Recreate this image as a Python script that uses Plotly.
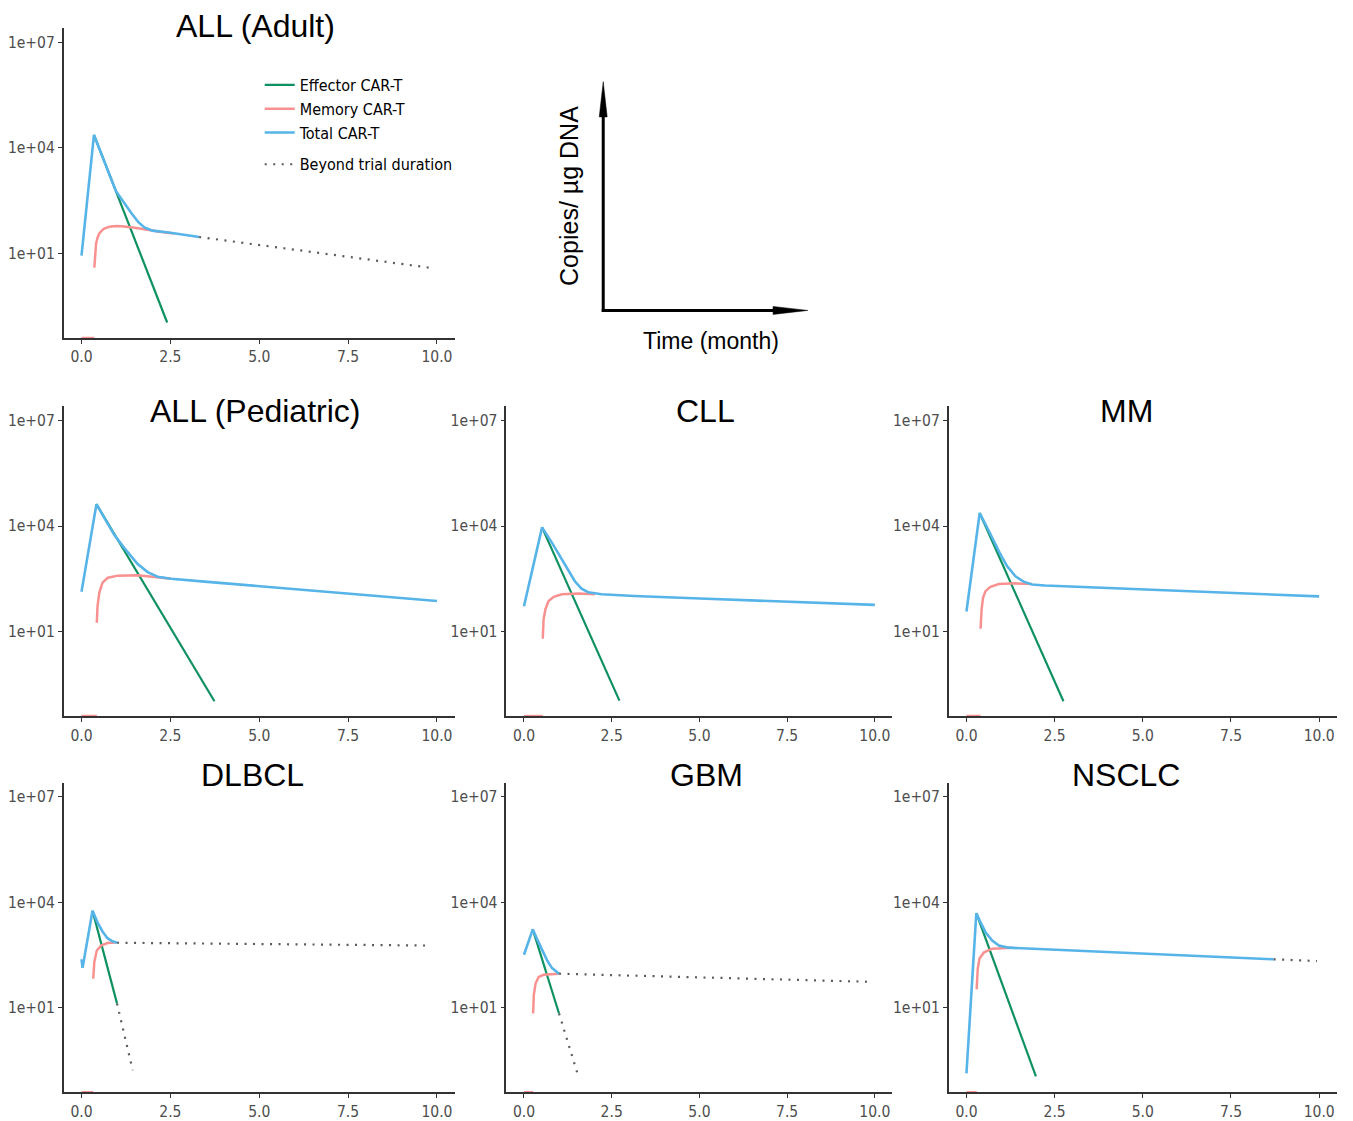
import plotly.graph_objects as go

# ---------------- data (time in months, values as log10 copies/ug DNA) ----------------
FLOOR_LOG = -1.4  # memory CAR-T before expansion (zero) drawn at the panel floor

# ALL (Adult)
ADULT_EFF_T = [0.35, 2.41]
ADULT_EFF_LOG = [4.37, -0.96]
ADULT_MEM_T = [0.36, 0.38, 0.41, 0.45, 0.50, 0.57, 0.64, 0.75, 0.83, 1.0, 1.2, 1.5, 1.77, 2.2, 2.6]
ADULT_MEM_LOG = [0.60, 1.0, 1.28, 1.45, 1.57, 1.65, 1.71, 1.75, 1.77, 1.78, 1.77, 1.73, 1.68, 1.62, 1.57]
ADULT_TOT_T = [0, 0.35, 0.97, 1.15, 1.4, 1.6, 1.77, 2.0, 2.5, 3.31]
ADULT_TOT_LOG = [0.94, 4.37, 2.77, 2.50, 2.15, 1.89, 1.74, 1.65, 1.59, 1.47]
ADULT_BEYOND_T = [3.31, 9.82]
ADULT_BEYOND_LOG = [1.47, 0.595]

# ALL (Pediatric)
PED_EFF_T = [0.42, 3.74]
PED_EFF_LOG = [4.62, -0.98]
PED_MEM_T = [0.43, 0.45, 0.50, 0.59, 0.74, 1.02, 1.58, 2.05, 2.52]
PED_MEM_LOG = [1.25, 1.72, 2.10, 2.39, 2.53, 2.59, 2.60, 2.56, 2.50]
PED_TOT_T = [0, 0.42, 0.92, 1.20, 1.58, 1.86, 2.14, 2.52, 3.46, 4.39, 5.80, 7.21, 8.62, 10.0]
PED_TOT_LOG = [2.13, 4.62, 3.75, 3.38, 2.92, 2.69, 2.56, 2.50, 2.42, 2.34, 2.22, 2.10, 1.98, 1.87]

# CLL
CLL_EFF_T = [0.515, 2.72]
CLL_EFF_LOG = [3.96, -0.96]
CLL_MEM_T = [0.535, 0.56, 0.61, 0.70, 0.85, 1.08, 1.55, 2.02]
CLL_MEM_LOG = [0.80, 1.35, 1.63, 1.87, 1.99, 2.06, 2.08, 2.06]
CLL_TOT_T = [0, 0.515, 0.80, 1.08, 1.27, 1.45, 1.64, 1.83, 2.21, 3.14, 5.02, 7.37, 10.0]
CLL_TOT_LOG = [1.72, 3.96, 3.52, 3.05, 2.72, 2.43, 2.22, 2.12, 2.06, 2.01, 1.94, 1.86, 1.76]

# MM
MM_EFF_T = [0.375, 2.75]
MM_EFF_LOG = [4.37, -0.98]
MM_MEM_T = [0.40, 0.43, 0.47, 0.54, 0.68, 0.92, 1.39, 1.86]
MM_MEM_LOG = [1.08, 1.63, 1.96, 2.15, 2.27, 2.35, 2.37, 2.35]
MM_TOT_T = [0, 0.375, 0.64, 0.92, 1.15, 1.39, 1.62, 1.86, 2.23, 3.55, 4.96, 7.30, 10.0]
MM_TOT_LOG = [1.57, 4.37, 3.85, 3.28, 2.86, 2.57, 2.42, 2.34, 2.31, 2.26, 2.20, 2.10, 2.00]

# DLBCL
DLBCL_EFF_T = [0.31, 1.0]
DLBCL_EFF_LOG = [3.76, 1.12]
DLBCL_MEM_T = [0.33, 0.36, 0.43, 0.55, 0.73, 0.97]
DLBCL_MEM_LOG = [1.83, 2.30, 2.63, 2.77, 2.84, 2.86]
DLBCL_TOT_T = [0, 0.03, 0.31, 0.45, 0.59, 0.73, 0.87, 1.0]
DLBCL_TOT_LOG = [2.38, 2.14, 3.76, 3.43, 3.17, 2.98, 2.89, 2.85]
DLBCL_BEYOND_EFF_T = [1.0, 1.44]
DLBCL_BEYOND_EFF_LOG = [1.12, -0.77]
DLBCL_BEYOND_TOT_T = [1.0, 9.84]
DLBCL_BEYOND_TOT_LOG = [2.85, 2.77]

# GBM
GBM_EFF_T = [0.25, 1.0]
GBM_EFF_LOG = [3.23, 0.84]
GBM_MEM_T = [0.26, 0.28, 0.33, 0.42, 0.56, 0.80, 0.99]
GBM_MEM_LOG = [0.84, 1.36, 1.69, 1.88, 1.94, 1.96, 1.97]
GBM_TOT_T = [0, 0.25, 0.37, 0.52, 0.66, 0.80, 1.0]
GBM_TOT_LOG = [2.51, 3.23, 2.96, 2.63, 2.35, 2.13, 1.97]
GBM_BEYOND_EFF_T = [1.0, 1.55]
GBM_BEYOND_EFF_LOG = [0.84, -0.95]
GBM_BEYOND_TOT_T = [1.0, 9.86]
GBM_BEYOND_TOT_LOG = [1.97, 1.74]

# NSCLC
NSCLC_EFF_T = [0.28, 1.97]
NSCLC_EFF_LOG = [3.69, -0.95]
NSCLC_MEM_T = [0.29, 0.32, 0.37, 0.50, 0.73, 1.01, 1.30]
NSCLC_MEM_LOG = [1.53, 2.11, 2.40, 2.58, 2.68, 2.70, 2.71]
NSCLC_TOT_T = [0, 0.28, 0.40, 0.54, 0.73, 0.92, 1.20, 2.61, 4.49, 6.37, 8.71]
NSCLC_TOT_LOG = [-0.86, 3.69, 3.43, 3.15, 2.91, 2.77, 2.71, 2.65, 2.58, 2.49, 2.38]
NSCLC_BEYOND_TOT_T = [8.71, 9.94]
NSCLC_BEYOND_TOT_LOG = [2.38, 2.33]

X_TICKS = [0, 2.5, 5, 7.5, 10]
X_TICK_TEXT = ["0.0", "2.5", "5.0", "7.5", "10.0"]
Y_TICKS = [1e7, 1e4, 1e1]
Y_TICK_TEXT = ["1e+07", "1e+04", "1e+01"]

LEGEND_NAMES = ["Effector CAR-T", "Memory CAR-T", "Total CAR-T", "Beyond trial duration"]

# ---------------- styling ----------------
OFF = 8                      # page body margin of the html page
W, H = 1353 - OFF, 1121 - OFF
C_EFF = "#0E9160"
C_MEM = "#F99191"
C_TOT = "#56B4E9"
C_DOT = "#5A5A5A"
NARROW = "Liberation Sans Narrow, Arial Narrow, DejaVu Sans Condensed, sans-serif"
SANS = "Liberation Sans, Arial, sans-serif"

def fx(px):
    return (px - OFF) / W

def fy(py):
    return 1 - (py - OFF) / H

COLS = [(57, 450), (502, 890), (946.7, 1336.7)]
ROWS = [(28.3, 338.3), (406.7, 716.7), (783.3, 1093.3)]

def L(v):
    return [10 ** a for a in v]

panels = [
    dict(title="ALL (Adult)", col=0, row=0, tx=249.5, ty=26,
         eff=(ADULT_EFF_T, ADULT_EFF_LOG), mem=(ADULT_MEM_T, ADULT_MEM_LOG),
         tot=(ADULT_TOT_T, ADULT_TOT_LOG), beyond=[(ADULT_BEYOND_T, ADULT_BEYOND_LOG)]),
    dict(title="ALL (Pediatric)", col=0, row=1, tx=249, ty=411,
         eff=(PED_EFF_T, PED_EFF_LOG), mem=(PED_MEM_T, PED_MEM_LOG),
         tot=(PED_TOT_T, PED_TOT_LOG), beyond=[]),
    dict(title="CLL", col=1, row=1, tx=702.5, ty=411,
         eff=(CLL_EFF_T, CLL_EFF_LOG), mem=(CLL_MEM_T, CLL_MEM_LOG),
         tot=(CLL_TOT_T, CLL_TOT_LOG), beyond=[]),
    dict(title="MM", col=2, row=1, tx=1125, ty=411,
         eff=(MM_EFF_T, MM_EFF_LOG), mem=(MM_MEM_T, MM_MEM_LOG),
         tot=(MM_TOT_T, MM_TOT_LOG), beyond=[]),
    dict(title="DLBCL", col=0, row=2, tx=247, ty=776,
         eff=(DLBCL_EFF_T, DLBCL_EFF_LOG), mem=(DLBCL_MEM_T, DLBCL_MEM_LOG),
         tot=(DLBCL_TOT_T, DLBCL_TOT_LOG),
         beyond=[(DLBCL_BEYOND_EFF_T, DLBCL_BEYOND_EFF_LOG), (DLBCL_BEYOND_TOT_T, DLBCL_BEYOND_TOT_LOG)]),
    dict(title="GBM", col=1, row=2, tx=703, ty=776,
         eff=(GBM_EFF_T, GBM_EFF_LOG), mem=(GBM_MEM_T, GBM_MEM_LOG),
         tot=(GBM_TOT_T, GBM_TOT_LOG),
         beyond=[(GBM_BEYOND_EFF_T, GBM_BEYOND_EFF_LOG), (GBM_BEYOND_TOT_T, GBM_BEYOND_TOT_LOG)]),
    dict(title="NSCLC", col=2, row=2, tx=1124.5, ty=776,
         eff=(NSCLC_EFF_T, NSCLC_EFF_LOG), mem=(NSCLC_MEM_T, NSCLC_MEM_LOG),
         tot=(NSCLC_TOT_T, NSCLC_TOT_LOG),
         beyond=[(NSCLC_BEYOND_TOT_T, NSCLC_BEYOND_TOT_LOG)]),
]

fig = go.Figure()
layout = {}
annotations = []

for i, p in enumerate(panels):
    n = i + 1
    xa = "x" if n == 1 else f"x{n}"
    ya = "y" if n == 1 else f"y{n}"
    first = (n == 1)
    # memory zero (before expansion) at floor
    fig.add_trace(go.Scatter(x=[0, p["mem"][0][0]], y=L([FLOOR_LOG, FLOOR_LOG]), mode="lines",
                             line=dict(color=C_MEM, width=2.5), xaxis=xa, yaxis=ya,
                             showlegend=False, hoverinfo="skip"))
    fig.add_trace(go.Scatter(x=p["eff"][0], y=L(p["eff"][1]), mode="lines", name=LEGEND_NAMES[0],
                             legendgroup="a", showlegend=first,
                             line=dict(color=C_EFF, width=2.2), xaxis=xa, yaxis=ya))
    fig.add_trace(go.Scatter(x=p["mem"][0], y=L(p["mem"][1]), mode="lines", name=LEGEND_NAMES[1],
                             legendgroup="a", showlegend=first,
                             line=dict(color=C_MEM, width=2.5), xaxis=xa, yaxis=ya))
    fig.add_trace(go.Scatter(x=p["tot"][0], y=L(p["tot"][1]), mode="lines", name=LEGEND_NAMES[2],
                             legendgroup="a", showlegend=first,
                             line=dict(color=C_TOT, width=2.6), xaxis=xa, yaxis=ya))
    for j, (bt, bl) in enumerate(p["beyond"]):
        fig.add_trace(go.Scatter(x=bt, y=L(bl), mode="lines", name=LEGEND_NAMES[3],
                                 legendgroup="b", showlegend=(first and j == 0),
                                 line=dict(color=C_DOT, width=2.2, dash="2px,6.5px"),
                                 xaxis=xa, yaxis=ya))

    c0, c1 = COLS[p["col"]]
    r0, r1 = ROWS[p["row"]]
    axis_common = dict(showline=True, linecolor="#333333", linewidth=1.7, showgrid=False,
                       zeroline=False, ticks="outside", ticklen=4, tickwidth=1.2,
                       tickcolor="#333333",
                       tickfont=dict(family=NARROW, size=15.5, color="#4D4D4D"))
    layout["xaxis" if n == 1 else f"xaxis{n}"] = dict(
        domain=[fx(c0), fx(c1)], anchor=ya, range=[-0.5, 10.5],
        tickvals=X_TICKS, ticktext=X_TICK_TEXT, **axis_common)
    layout["yaxis" if n == 1 else f"yaxis{n}"] = dict(
        domain=[fy(r1), fy(r0)], anchor=xa, type="log", range=[-1.4, 7.4],
        tickvals=Y_TICKS, ticktext=Y_TICK_TEXT, **axis_common)
    annotations.append(dict(text=p["title"], x=fx(p["tx"]), y=fy(p["ty"]), xref="paper", yref="paper",
                            showarrow=False, xanchor="center", yanchor="middle",
                            font=dict(family=SANS, size=32, color="#000000")))

# schematic axes (top middle)
ax_x, ax_y = 599.3, 310.7
shapes = [
    dict(type="line", xref="paper", yref="paper", x0=fx(ax_x), y0=fy(ax_y + 1.5), x1=fx(ax_x), y1=fy(112),
         line=dict(color="black", width=3)),
    dict(type="line", xref="paper", yref="paper", x0=fx(ax_x - 1.5), y0=fy(ax_y), x1=fx(772), y1=fy(ax_y),
         line=dict(color="black", width=3)),
    dict(type="path", xref="paper", yref="paper",
         path=f"M {fx(ax_x)},{fy(81.7)} L {fx(ax_x - 4)},{fy(117)} L {fx(ax_x + 4)},{fy(117)} Z",
         fillcolor="black", line=dict(color="black", width=0.5)),
    dict(type="path", xref="paper", yref="paper",
         path=f"M {fx(805)},{fy(ax_y)} L {fx(770)},{fy(ax_y - 4)} L {fx(770)},{fy(ax_y + 4)} Z",
         fillcolor="black", line=dict(color="black", width=0.5)),
]
annotations.append(dict(text="Copies/ µg DNA", x=fx(565), y=fy(196), xref="paper", yref="paper",
                        showarrow=False, textangle=-90, xanchor="center", yanchor="middle",
                        font=dict(family=SANS, size=25, color="#000000")))
annotations.append(dict(text="Time (month)", x=fx(708), y=fy(341), xref="paper", yref="paper",
                        showarrow=False, xanchor="center", yanchor="middle",
                        font=dict(family=SANS, size=23, color="#000000")))

layout.update(dict(
    width=W, height=H, margin=dict(l=0, r=0, t=0, b=0),
    paper_bgcolor="white", plot_bgcolor="white",
    showlegend=True,
    legend=dict(x=fx(254), y=fy(68), xanchor="left", yanchor="top", traceorder="grouped",
                tracegroupgap=8, bgcolor="rgba(0,0,0,0)",
                font=dict(family=NARROW, size=16, color="#000000")),
    annotations=annotations, shapes=shapes,
))
fig.update_layout(**layout)
fig.write_html("out.html")
